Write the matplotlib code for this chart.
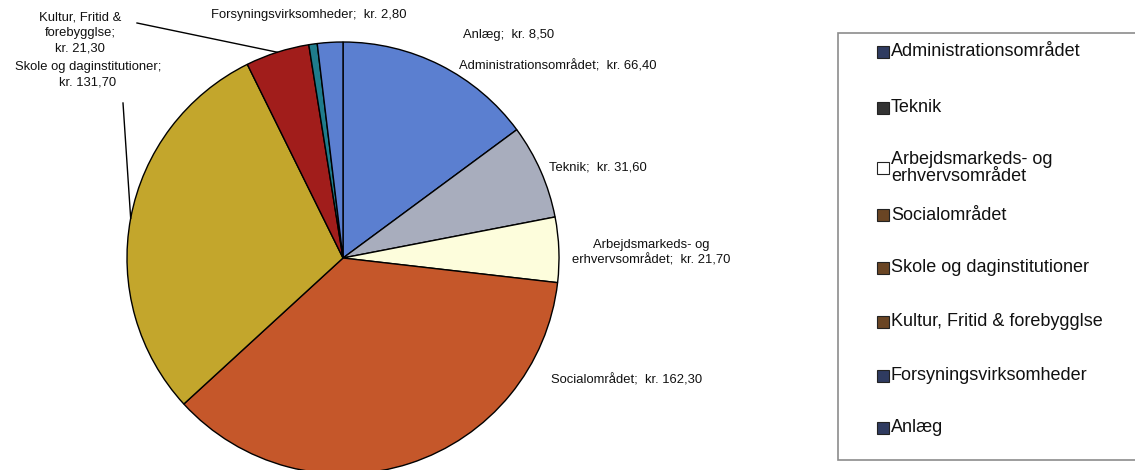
import numpy as np
import matplotlib.pyplot as plt
from matplotlib.patches import Rectangle

plt.rcParams['font.family'] = ['Liberation Sans', 'DejaVu Sans']

names = ['Administrationsområdet', 'Teknik', 'Arbejdsmarkeds- og erhvervsområdet',
         'Socialområdet', 'Skole og daginstitutioner', 'Kultur, Fritid & forebygglse',
         'Forsyningsvirksomheder', 'Anlæg']
values = [66.40, 31.60, 21.70, 162.30, 131.70, 21.30, 2.80, 8.50]
slice_colors = ['#5b7fd0', '#a8adbd', '#fdfddc', '#c5572a', '#c3a62c', '#a11d1b', '#1f7c8c', '#5b7fd0']
legend_colors = ['#2f3b60', '#333333', '#ffffff', '#6a4524', '#6a4524', '#6a4524', '#2f3b60', '#2f3b60']
legend_names = ['Administrationsområdet', 'Teknik', 'Arbejdsmarkeds- og\nerhvervsområdet',
                'Socialområdet', 'Skole og daginstitutioner', 'Kultur, Fritid & forebygglse',
                'Forsyningsvirksomheder', 'Anlæg']

H = 470


def kr(v):
    return 'kr. ' + f'{v:.2f}'.replace('.', ',')


fig = plt.figure(figsize=(11.35, 4.70), dpi=100)
ax = fig.add_axes([0, 0, 1, 1])

cx, cy, r = 343, H - 258, 216
wedges, _ = ax.pie(values, colors=slice_colors, startangle=90, counterclock=False,
                   center=(cx, cy), radius=r,
                   wedgeprops=dict(edgecolor='black', linewidth=1.0))
ax.set_xlim(0, 1135)
ax.set_ylim(0, H)
ax.set_aspect('equal')
ax.axis('off')

fs = 9.4
# labels: (text position, alignment)
lab = [
    (459, 66, 'left'),
    (549, 167, 'left'),
    (651, 253, 'center'),
    (551, 380, 'left'),
    (88, 75, 'center'),
    (80, 33, 'center'),
    (211, 15, 'left'),
    (463, 35, 'left'),
]
texts = [
    f'{names[0]};  {kr(values[0])}',
    f'{names[1]};  {kr(values[1])}',
    f'Arbejdsmarkeds- og\nerhvervsområdet;  {kr(values[2])}',
    f'{names[3]};  {kr(values[3])}',
    f'{names[4]};\n{kr(values[4])}',
    f'Kultur, Fritid &\nforebygglse;\n{kr(values[5])}',
    f'{names[6]};  {kr(values[6])}',
    f'{names[7]};  {kr(values[7])}',
]
for (x, y, ha), t in zip(lab, texts):
    ax.text(x, H - y, t, ha=ha, va='center', fontsize=fs, color='#111111',
            linespacing=1.35, multialignment='center')

# leader lines for Skole and Kultur
for i, start in [(4, (123, 103)), (5, (137, 23))]:
    w = wedges[i]
    mid = np.deg2rad((w.theta1 + w.theta2) / 2)
    ex, ey = cx + r * np.cos(mid), cy + r * np.sin(mid)
    ax.plot([start[0], ex], [H - start[1], ey], color='black', lw=1.0)

# legend box
ax.add_patch(Rectangle((838, H - 460), 310, 427, facecolor='white',
                       edgecolor='#8c8c8c', lw=1.2, clip_on=False))
leg_y = [52, 108, 168, 215, 268, 322, 376, 428]
for y, c, t in zip(leg_y, legend_colors, legend_names):
    ax.add_patch(Rectangle((877, H - y - 6), 12, 12, facecolor=c,
                           edgecolor='#222222', lw=0.8))
    ax.text(891, H - y, t, ha='left', va='center', fontsize=13.0, color='#111111',
            linespacing=1.05)

fig.savefig('out.png', dpi=100)
